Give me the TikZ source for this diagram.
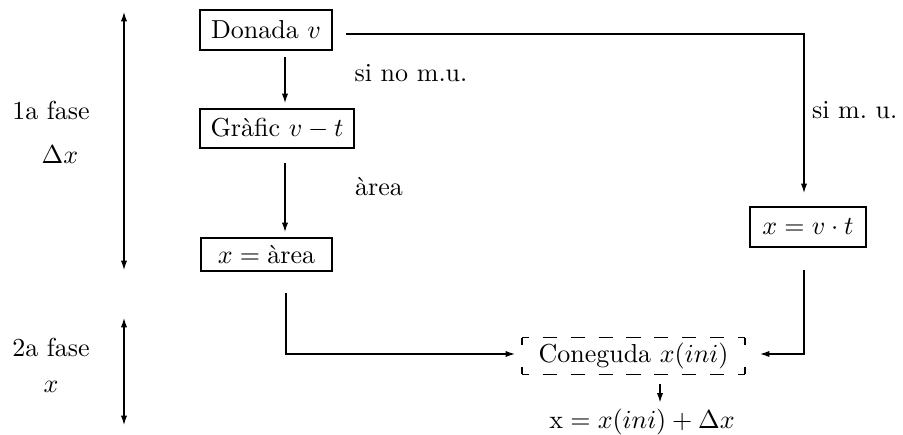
\documentclass[tikz,border=0pt]{standalone}
\usetikzlibrary{arrows.meta,calc}
\begin{document}
\begin{tikzpicture}[x=0.3846pt,y=-0.3846pt,
  every node/.style={inner sep=0pt, outer sep=0pt},
  arr/.style={line width=0.45pt,-{Latex[length=3.6pt,width=2.4pt]}},
  darr/.style={line width=0.45pt,{Latex[length=3.6pt,width=2.4pt]}-{Latex[length=3.6pt,width=2.4pt]}},
  boxnode/.style={draw,line width=0.45pt,align=center},
  hdash/.style={line width=0.45pt,dash pattern=on 5.4pt off 5.325pt,dash phase=2.7pt},
  vdash/.style={line width=0.45pt,dash pattern=on 5.4pt off 8.8pt,dash phase=2.7pt},
  lbl/.style={anchor=center}]
\useasboundingbox (0,0) rectangle (903,435);
% boxes
\node[boxnode,minimum width=50.8pt,minimum height=15.4pt] (d) at (266,30) {Donada $v$};
\node[boxnode,minimum width=59.2pt,minimum height=15pt] (g) at (277,128.5) {Gr\`afic $v-t$};
\node[boxnode,minimum width=50.4pt,minimum height=12.7pt] (a) at (266.5,254.5) {$x=\mbox{\`area}$};
\node[boxnode,minimum width=44.6pt,minimum height=15.4pt] (v) at (808,227) {$x=v\cdot t$};
\node[minimum width=85.8pt,minimum height=14.2pt] (c) at (633.5,356) {Coneguda $x(ini)$};
\node (r) at (642,422) {x${}=x(ini)+\Delta x$};
% dashed frame of c
\draw[hdash] (c.north west) -- (c.north east);
\draw[hdash] (c.south west) -- (c.south east);
\draw[vdash] (c.north west) -- (c.south west);
\draw[vdash] (c.north east) -- (c.south east);
% labels
\node (l1) at (411,73) {si no m.u.};
\node (l2) at (379,187) {\`area};
\node[anchor=west] (l3) at (812,110) {si m.\ u.};
\node (f1) at (51,110) {1a fase};
\node (f1b) at (60,155) {$\Delta x$};
\node (f2) at (51,347) {2a fase};
\node (f2b) at (51,387) {$x$};
% helper coordinates
\coordinate (cx) at (285,0);
\coordinate (cr) at (804,0);
\coordinate (cs) at (660,0);
\coordinate (p1t) at (124,12);
\coordinate (p1b) at (124,270);
\coordinate (p2t) at (124,318);
\coordinate (p2b) at (124,425);
% connectors
\draw[arr,shorten <=2.7pt,shorten >=2.3pt] (d.south -| cx) -- (g.north -| cx);
\draw[arr,shorten <=5.8pt,shorten >=2.3pt] (g.south -| cx) -- (a.north -| cx);
\draw[arr] ($(d.east)+(14,4)$) -| ($(v.north -| cr)+(0,-14)$);
\draw[arr] ($(a.south -| cx)+(1,22)$) |- ($(c.west)+(-7,-2)$);
\draw[arr] ($(v.south -| cr)+(0,23)$) |- ($(c.east)+(15,-2)$);
\draw[arr,shorten <=3.8pt,shorten >=1pt] (c.south -| cs) -- ($(r.north -| cs)+(0,-4)$);
\draw[darr] (p1t) -- (p1b);
\draw[darr] (p2t) -- (p2b);
\end{tikzpicture}
\end{document}
